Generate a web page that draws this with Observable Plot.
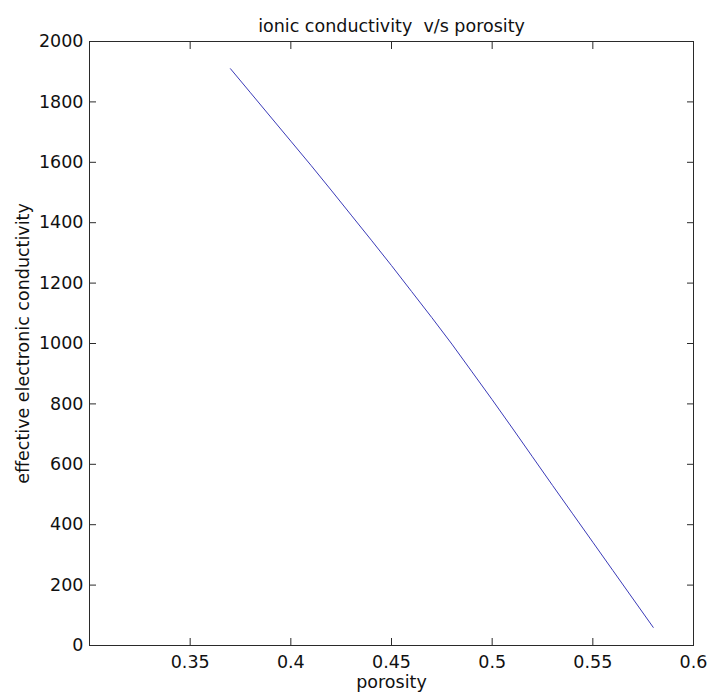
<!DOCTYPE html>
<html><head><meta charset="utf-8">
<script src="https://cdn.jsdelivr.net/npm/d3@7"></script>
<script src="https://cdn.jsdelivr.net/npm/@observablehq/plot@0.6"></script>
<style>
body{margin:0;background:#fff}
#chart svg{font-family:"DejaVu Sans","Liberation Sans",Arial,sans-serif}
</style>
</head><body><div id="chart"></div>
<script>
const porosity = [0.37,0.38,0.39,0.40,0.41,0.42,0.43,0.44,0.45,0.46,0.47,0.48,0.49,0.50,0.51,0.52,0.53,0.54,0.55,0.56,0.57,0.58];
const conductivity = [1910,1830,1750,1670,1590,1508,1425,1342,1258,1172,1086,998,906,814,720,625,530,436,342,248,154,60];
const xTicks = [0.35,0.4,0.45,0.5,0.55,0.6];
const yTicks = [0,200,400,600,800,1000,1200,1400,1600,1800,2000];
const title = "ionic conductivity  v/s porosity";
const xLabel = "porosity";
const yLabel = "effective electronic conductivity";

const data = porosity.map((p, i) => ({porosity: p, conductivity: conductivity[i]}));
const axisColor = "#2a2a2a";
const noText = () => "";
const plain = d => String(d);
const fs = 17.5;

const chart = Plot.plot({
  width: 711,
  height: 700,
  marginLeft: 89,
  marginRight: 18,
  marginTop: 41,
  marginBottom: 55,
  style: {fontFamily: "'DejaVu Sans', 'Liberation Sans', Arial, sans-serif", fontSize: "17.5px", color: "#111", background: "white"},
  x: {domain: [0.3, 0.6]},
  y: {domain: [0, 2000]},
  marks: [
    Plot.line(data, {x: "porosity", y: "conductivity", stroke: "#3a3ab8", strokeWidth: 1}),
    Plot.axisX(xTicks, {anchor: "bottom", tickSize: -7, tickPadding: 17, tickFormat: plain, fontSize: fs, label: null, stroke: axisColor, fill: "#111"}),
    Plot.axisX(xTicks, {anchor: "top", tickSize: -7, tickFormat: noText, label: null, stroke: axisColor}),
    Plot.axisY(yTicks, {anchor: "left", tickSize: -7, tickPadding: 13, tickFormat: plain, fontSize: fs, label: null, stroke: axisColor, fill: "#111"}),
    Plot.axisY(yTicks, {anchor: "right", tickSize: -7, tickFormat: noText, label: null, stroke: axisColor}),
    Plot.frame({stroke: axisColor, strokeWidth: 1}),
    Plot.text([title], {frameAnchor: "top", dy: -22, fontSize: fs, fill: "#111"}),
    Plot.text([xLabel], {frameAnchor: "bottom", dy: 42, fontSize: fs, fill: "#111"}),
    Plot.text([yLabel], {frameAnchor: "left", dx: -66, rotate: -90, textAnchor: "middle", fontSize: fs, fill: "#111"})
  ]
});
document.getElementById("chart").appendChild(chart);
</script>
</body></html>
